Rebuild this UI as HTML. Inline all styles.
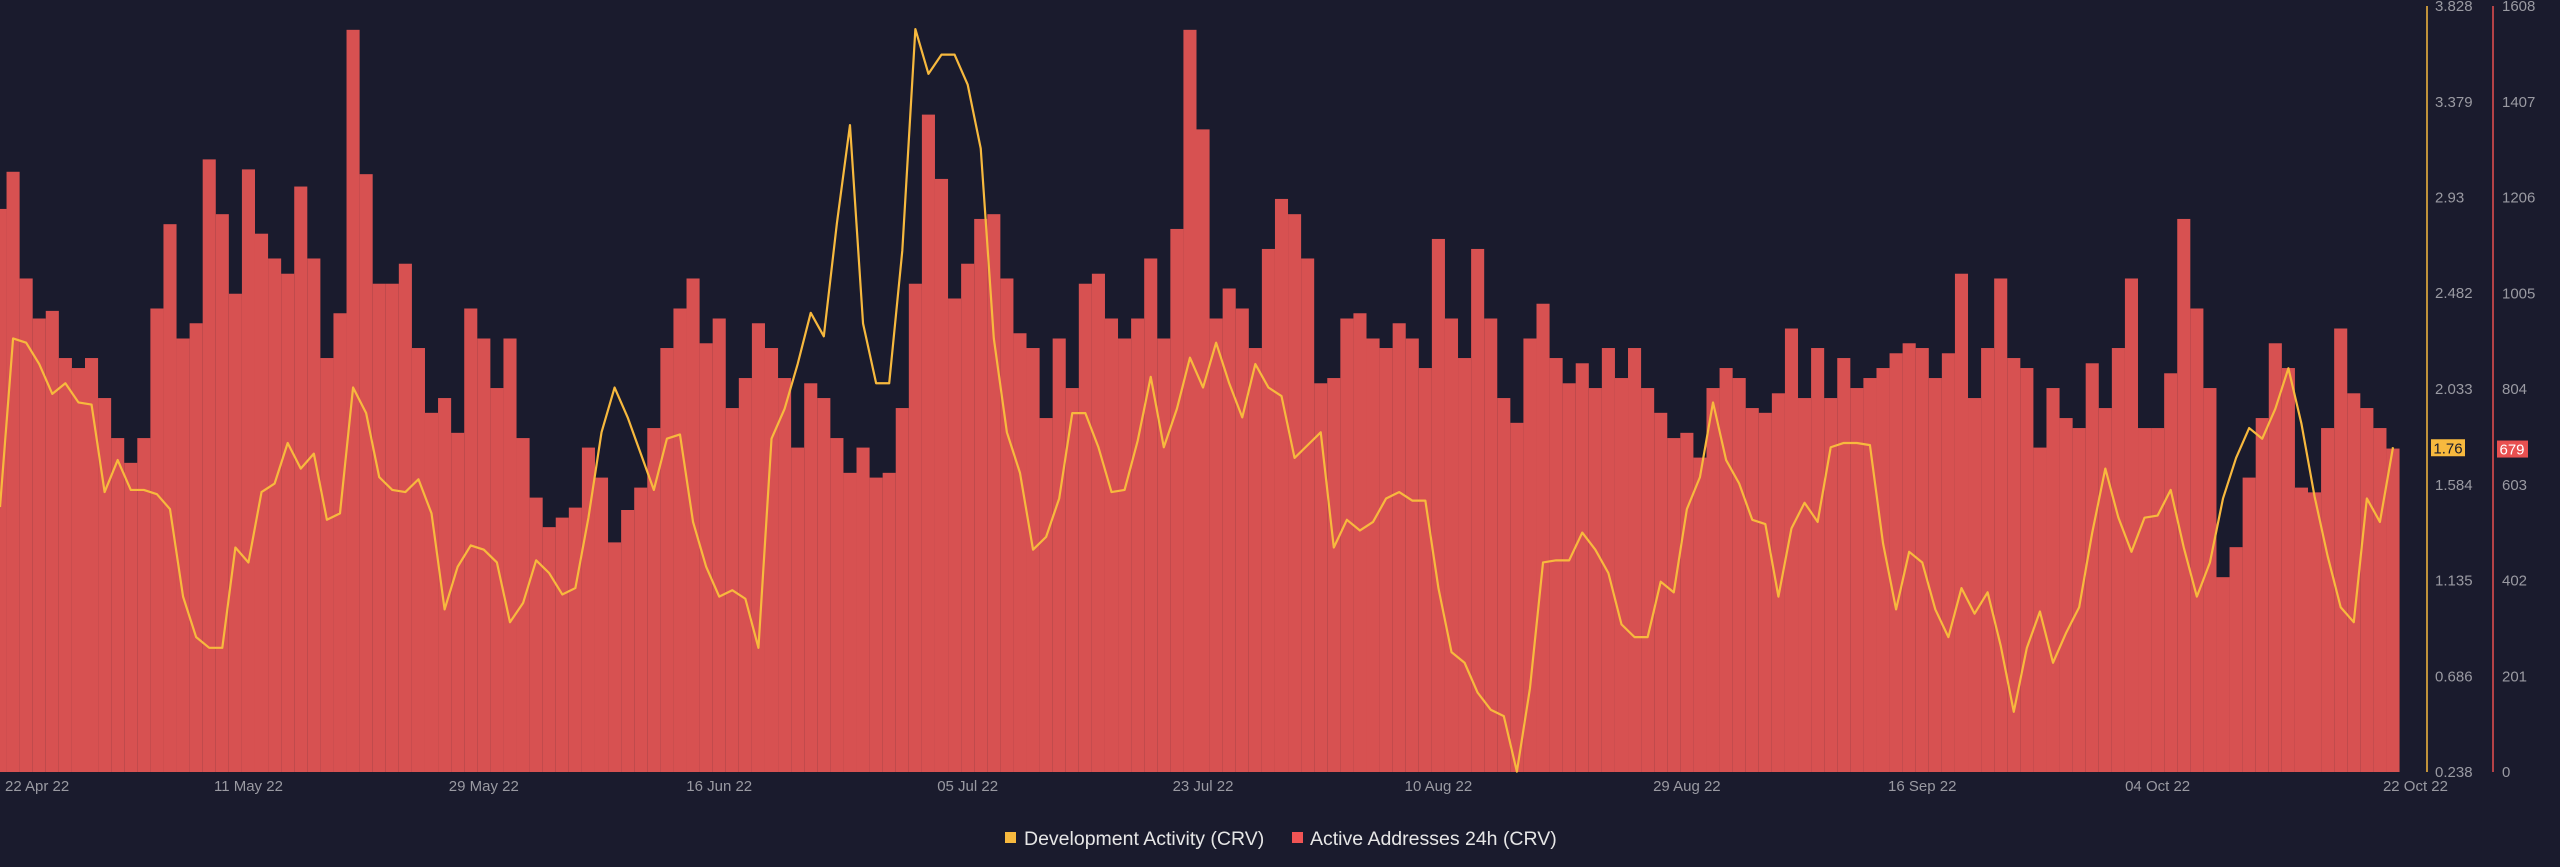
<!DOCTYPE html>
<html><head><meta charset="utf-8">
<style>
html,body{margin:0;padding:0;background:#1a1b2d;}
svg{display:block;font-family:"Liberation Sans",sans-serif;}
</style></head>
<body>
<svg id="chart" width="2560" height="867" viewBox="0 0 2560 867" xmlns="http://www.w3.org/2000/svg">
<rect x="0" y="0" width="2560" height="867" fill="#1a1b2d"/>
<g id="bars"></g>
<g id="line"></g>
<g id="axes"></g>
<g id="legend">
  <g>
    <rect x="1005" y="832" width="11" height="11" fill="#f7b93e"/>
    <text x="1024" y="845" font-size="19.5" fill="#e6e6e6">Development Activity (CRV)</text>
  </g>
  <g>
    <rect x="1292" y="832" width="11" height="11" fill="#f05454"/>
    <text x="1310" y="845" font-size="19.5" fill="#e6e6e6">Active Addresses 24h (CRV)</text>
  </g>
</g>
</svg>
<script>
const activeAddresses = [1182,1260,1036,952,968,869,848,869,785,701,649,701,973,1150,910,942,1286,1171,1004,1265,1130,1078,1046,1229,1078,869,963,1558,1255,1025,1025,1067,890,754,785,712,973,910,806,910,701,576,514,534,555,681,618,482,550,597,722,890,973,1036,900,952,764,827,942,890,827,681,816,785,701,628,681,618,628,764,1025,1380,1245,994,1067,1161,1171,1036,921,890,743,910,806,1025,1046,952,910,952,1078,910,1140,1558,1349,952,1015,973,890,1098,1203,1171,1078,816,827,952,963,910,890,942,910,848,1119,952,869,1098,952,785,733,910,983,869,816,858,806,890,827,890,806,754,701,712,660,806,848,827,764,754,795,931,785,890,785,869,806,827,848,879,900,890,827,879,1046,785,890,1036,869,848,681,806,743,722,858,764,890,1036,722,722,837,1161,973,806,409,472,618,743,900,848,597,587,722,931,795,764,722,679];
const devActivity = [1.48,2.27,2.25,2.15,2.01,2.06,1.97,1.96,1.55,1.70,1.56,1.56,1.54,1.47,1.06,0.87,0.82,0.82,1.29,1.22,1.55,1.59,1.78,1.66,1.73,1.42,1.45,2.04,1.92,1.62,1.56,1.55,1.61,1.45,1.00,1.20,1.30,1.28,1.22,0.94,1.03,1.23,1.17,1.07,1.10,1.43,1.83,2.04,1.90,1.73,1.56,1.80,1.82,1.41,1.20,1.06,1.09,1.05,0.82,1.80,1.94,2.15,2.39,2.28,2.81,3.27,2.34,2.06,2.06,2.68,3.72,3.51,3.60,3.60,3.46,3.16,2.27,1.83,1.64,1.28,1.34,1.52,1.92,1.92,1.76,1.55,1.56,1.79,2.09,1.76,1.94,2.18,2.04,2.25,2.06,1.90,2.15,2.04,2.00,1.71,1.77,1.83,1.29,1.42,1.37,1.41,1.52,1.55,1.51,1.51,1.10,0.80,0.75,0.61,0.53,0.50,0.24,0.63,1.22,1.23,1.23,1.36,1.28,1.17,0.93,0.87,0.87,1.13,1.08,1.47,1.62,1.97,1.70,1.59,1.42,1.40,1.06,1.38,1.50,1.41,1.76,1.78,1.78,1.77,1.31,1.00,1.27,1.22,1.00,0.87,1.10,0.98,1.08,0.83,0.52,0.82,0.99,0.75,0.89,1.01,1.36,1.66,1.43,1.27,1.43,1.44,1.56,1.29,1.06,1.22,1.52,1.71,1.85,1.80,1.94,2.13,1.87,1.53,1.25,1.01,0.94,1.52,1.41,1.76];
const dateLabels = ["22 Apr 22","11 May 22","29 May 22","16 Jun 22","05 Jul 22","23 Jul 22","10 Aug 22","29 Aug 22","16 Sep 22","04 Oct 22","22 Oct 22"];
const dateDays = [0,19,37,55,74,92,110,129,147,165,183];
const devTicks = ["0.238","0.686","1.135","1.584","2.033","2.482","2.93","3.379","3.828"];
const addrTicks = ["0","201","402","603","804","1005","1206","1407","1608"];

const NS = "http://www.w3.org/2000/svg";
const X0 = 0, X1 = 2393, YT = 6, YB = 772;
const nDays = activeAddresses.length;
function xScale(d){ return X0 + d * (X1 - X0) / (nDays - 1); }
function yAddr(v){ return YB - v / 1608 * (YB - YT); }
function yDev(v){ return YB - (v - 0.238) / (3.828 - 0.238) * (YB - YT); }
function mk(tag, attrs, parent){ const e = document.createElementNS(NS, tag); for (const k in attrs) e.setAttribute(k, attrs[k]); parent.appendChild(e); return e; }

const barsG = document.getElementById('bars');
const step = (X1 - X0) / (nDays - 1);
activeAddresses.forEach((v, i) => {
  const x = xScale(i) - step / 2;
  const r = mk('rect', {x: Math.max(0, x).toFixed(2), y: yAddr(v).toFixed(2), width: (i === 0 ? step / 2 : step).toFixed(2), height: (YB - yAddr(v)).toFixed(2), fill: '#d75151'}, barsG);
  
  
});

const lineG = document.getElementById('line');
let d = '';
devActivity.forEach((v, i) => { d += (i ? 'L' : 'M') + xScale(i).toFixed(2) + ' ' + yDev(v).toFixed(2); });
const p = mk('path', {d: d, fill: 'none', stroke: '#f7b93e', 'stroke-width': 2.2, 'stroke-linejoin': 'round'}, lineG);



const axG = document.getElementById('axes');
const yl = mk('line', {x1: 2427, x2: 2427, y1: YT, y2: YB, stroke: '#f7b93e', 'stroke-width': 1.5}, axG);


const rl = mk('line', {x1: 2493, x2: 2493, y1: YT, y2: YB, stroke: '#e85050', 'stroke-width': 1.5}, axG);



devTicks.forEach((t) => {
  const tx = mk('text', {x: 2435, y: yDev(parseFloat(t)) + 5, 'font-size': 15, fill: '#9a9aa2'}, axG);
  tx.textContent = t;
  
  
});
addrTicks.forEach((t) => {
  const tx = mk('text', {x: 2502, y: yAddr(parseFloat(t)) + 5, 'font-size': 15, fill: '#9a9aa2'}, axG);
  tx.textContent = t;
  
  
});
dateLabels.forEach((t, i) => {
  let x = xScale(dateDays[i]), anchor = 'middle';
  if (i === 0) { x = 5; anchor = 'start'; }
  if (i === dateLabels.length - 1) { x = 2448; anchor = 'end'; }
  const tx = mk('text', {x: x, y: 791, 'font-size': 15, fill: '#9a9aa2', 'text-anchor': anchor}, axG);
  tx.textContent = t;
  
  
});

const lastDev = devActivity[devActivity.length - 1];
const lastAddr = activeAddresses[activeAddresses.length - 1];
const b1 = mk('rect', {x: 2431, y: yDev(lastDev) - 8, width: 34, height: 17, fill: '#f7b93e'}, axG);


const b1t = mk('text', {x: 2448, y: yDev(lastDev) + 6, 'font-size': 15, fill: '#1a1b2d', 'text-anchor': 'middle'}, axG);
b1t.textContent = lastDev.toFixed(2);


const b2 = mk('rect', {x: 2497, y: yAddr(lastAddr) - 8, width: 31, height: 17, fill: '#e85050'}, axG);


const b2t = mk('text', {x: 2512, y: yAddr(lastAddr) + 6, 'font-size': 15, fill: '#ffffff', 'text-anchor': 'middle'}, axG);
b2t.textContent = String(lastAddr);


</script>
</body></html>
